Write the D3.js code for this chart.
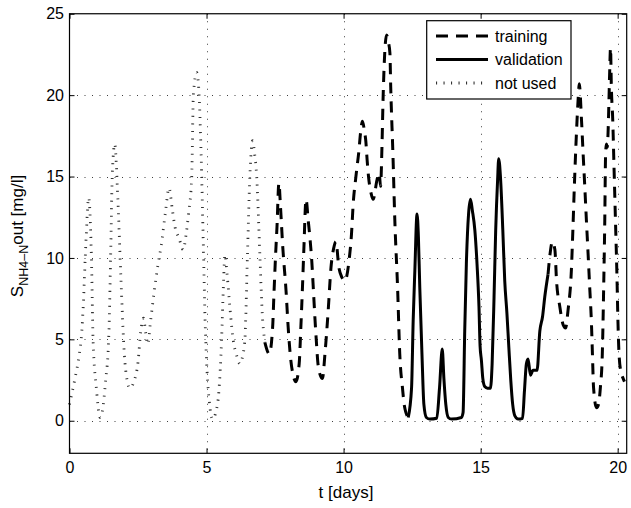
<!DOCTYPE html>
<html>
<head>
<meta charset="utf-8">
<script src="https://cdn.jsdelivr.net/npm/d3@7"></script>
<style>
  html, body { margin: 0; padding: 0; background: #fff; }
  svg { display: block; font-family: 'Liberation Sans', Arial, sans-serif; }
</style>
</head>
<body>
<div id="chart"></div>
<script>
// czas [dni] i S_NH4-N [mg/l] - trzy fragmenty
const notUsedT = [0, 0.2, 0.35, 0.45, 0.5, 0.6, 0.7, 0.8, 0.86, 0.98, 1.12, 1.2, 1.32, 1.43, 1.5, 1.56, 1.65,
  1.75, 1.87, 2.0, 2.1, 2.2, 2.35, 2.5, 2.6, 2.7, 2.78, 2.86, 2.95, 3.08, 3.23, 3.35, 3.5, 3.63, 3.75, 3.85,
  4.0, 4.15, 4.25, 4.35, 4.46, 4.52, 4.64, 4.72, 4.8, 4.88, 4.95, 5.02, 5.1, 5.22, 5.35, 5.45, 5.55, 5.62,
  5.67, 5.75, 5.85, 5.97, 6.1, 6.22, 6.32, 6.4, 6.49, 6.58, 6.68, 6.76, 6.83, 6.95, 7.02, 7.13];
const notUsedV = [1.0, 2.6, 4.0, 5.5, 7.0, 11.0, 13.7, 10.0, 5.0, 2.0, 0.2, 0.6, 2.5, 5.0, 10.0, 15.0, 17.0,
  14.2, 9.0, 4.1, 2.5, 2.0, 2.4, 3.6, 5.5, 6.3, 5.4, 4.7, 6.0, 7.8, 9.6, 10.8, 12.8, 14.3, 13.0, 11.9,
  11.2, 10.5, 11.4, 12.8, 15.0, 20.0, 21.4, 20.3, 16.5, 11.0, 6.0, 3.0, 1.2, 0.1, 0.6, 1.8, 5.0, 8.5,
  10.2, 9.0, 7.0, 5.0, 4.0, 3.5, 4.0, 5.0, 10.0, 15.0, 17.2, 16.3, 15.0, 10.0, 7.0, 4.8];

const trainingT = [7.13, 7.29, 7.41, 7.46, 7.52, 7.57, 7.64, 7.7, 7.78, 7.9, 7.98, 8.07, 8.16, 8.26, 8.38, 8.44,
  8.5, 8.55, 8.63, 8.71, 8.78, 8.84, 8.9, 8.96, 9.01, 9.06, 9.15, 9.23, 9.32, 9.44, 9.54, 9.64, 9.72, 9.83,
  9.94, 10.05, 10.2, 10.29, 10.35, 10.45, 10.56, 10.62, 10.69, 10.76, 10.81, 10.86, 10.91, 11.0, 11.08,
  11.22, 11.3, 11.35, 11.4, 11.44, 11.48, 11.57, 11.63, 11.69, 11.72, 11.8, 11.87, 11.97, 12.05, 12.15,
  12.22, 12.36];
const trainingV = [4.8, 4.1, 5.7, 7.8, 10.2, 11.9, 14.6, 13.1, 10.7, 8.0, 5.7, 3.8, 2.8, 2.4, 3.5, 5.7,
  8.2, 10.5, 13.6, 12.3, 11.1, 9.8, 8.0, 6.15, 4.8, 3.6, 2.8, 2.6, 4.1, 6.8, 9.4, 10.6, 11.0, 9.4,
  8.8, 8.6, 9.85, 11.5, 13.3, 15.0, 16.6, 17.7, 18.4, 17.8, 17.2, 16.0, 15.0, 14.0, 13.6,
  14.8, 15.2, 14.4, 16.8, 19.7, 21.8, 23.7, 23.3, 22.6, 20.5, 16.4, 12.3, 8.2, 4.1, 2.0,
  0.9, 0.2];

const validationT = [12.36, 12.48, 12.54, 12.6, 12.68, 12.73, 12.78, 12.86, 12.93, 13.02, 13.15, 13.4, 13.5,
  13.6, 13.66, 13.73, 13.82, 13.94, 14.3, 14.36, 14.42, 14.48, 14.56, 14.63, 14.7, 14.79, 14.87, 14.94,
  14.98, 15.03, 15.08, 15.15, 15.25, 15.36, 15.42, 15.49, 15.55, 15.62, 15.66, 15.73, 15.81, 15.88, 15.96,
  16.03, 16.1, 16.17, 16.25, 16.37, 16.53, 16.6, 16.67, 16.73, 16.82, 16.91, 17.06, 17.16, 17.26, 17.34,
  17.46];
const validationV = [0.2, 2.0, 6.2, 9.2, 12.7, 11.3, 8.2, 4.1, 1.0, 0.2, 0.1, 0.15, 2.0,
  4.4, 2.6, 1.0, 0.2, 0.1, 0.2, 0.5, 5.5, 9.65, 12.7, 13.6, 12.9, 11.7, 9.6, 7.0,
  4.6, 3.7, 2.6, 2.1, 2.0, 2.0, 3.5, 7.6, 11.7, 14.8, 16.1, 14.8, 11.7, 8.6, 6.6,
  4.5, 2.5, 1.0, 0.3, 0.1, 0.15, 1.85, 3.5, 3.8, 2.8, 3.1, 3.1, 5.5, 6.4, 7.6,
  9.0];

const training2T = [17.46, 17.52, 17.62, 17.71, 17.77, 17.89, 18.01, 18.1, 18.19, 18.31, 18.37, 18.42, 18.5,
  18.56, 18.6, 18.68, 18.74, 18.8, 18.86, 18.92, 18.98, 19.04, 19.08, 19.12, 19.23, 19.3, 19.37, 19.44,
  19.49, 19.53, 19.56, 19.59, 19.62, 19.65, 19.68, 19.71, 19.74, 19.77, 19.82, 19.87, 19.92, 19.97,
  20.01, 20.05, 20.12, 20.2, 20.25];
const training2V = [9.0, 10.05, 11.0, 10.5, 8.6, 7.0, 5.9, 5.7, 6.8, 9.2, 11.9, 14.4, 17.8,
  19.8, 20.7, 18.5, 16.4, 14.4, 12.3, 10.3, 8.2, 6.15, 4.1, 2.05, 0.8, 1.0, 2.05, 4.1,
  8.2, 12.3, 16.4, 17.0, 16.8, 17.7, 19.5, 21.5, 22.9, 20.5, 18.5, 15.4, 12.3, 9.2,
  6.15, 4.1, 3.0, 2.6, 2.4];

const xTicks = [0, 5, 10, 15, 20];
const yTicks = [0, 5, 10, 15, 20, 25];
const legendLabels = ['training', 'validation', 'not used'];

const WIDTH = 631, HEIGHT = 508;
const PLOT = { LEFT: 69.5, TOP: 13.75, RIGHT: 626.7, BOTTOM: 453.3 };

const svg = d3.select('#chart')
  .append('svg')
  .attr('width', WIDTH)
  .attr('height', HEIGHT);

const x = d3.scaleLinear().domain([0, 20.33]).range([PLOT.LEFT, PLOT.RIGHT]);
const y = d3.scaleLinear().domain([-2, 25]).range([PLOT.BOTTOM, PLOT.TOP]);

// siatka kropkowana
const grid = svg.append('g').attr('stroke', '#000').attr('stroke-width', 1)
  .attr('stroke-dasharray', '1,6.5').attr('opacity', 0.75);
grid.selectAll('.gx').data(xTicks.filter(d => d > 0))
  .join('line')
  .attr('x1', d => Math.round(x(d)) + 0.5).attr('x2', d => Math.round(x(d)) + 0.5)
  .attr('y1', PLOT.TOP).attr('y2', PLOT.BOTTOM);
grid.selectAll('.gy').data(yTicks.filter(d => d < 25))
  .join('line')
  .attr('y1', d => Math.round(y(d)) + 0.5).attr('y2', d => Math.round(y(d)) + 0.5)
  .attr('x1', PLOT.LEFT).attr('x2', PLOT.RIGHT);

// linie danych
const line = d3.line()
  .x(d => x(d[0]))
  .y(d => y(d[1]))
  .curve(d3.curveMonotoneX);

const series = [
  { t: notUsedT, v: notUsedV, width: 2.8, dash: '1.1,6.4', color: '#333' },
  { t: trainingT, v: trainingV, width: 3, dash: '11,8', color: '#000' },
  { t: validationT, v: validationV, width: 3, dash: null, color: '#000' },
  { t: training2T, v: training2V, width: 3, dash: '11,8', color: '#000' }
];

series.forEach(s => {
  svg.append('path')
    .datum(s.t.map((t, i) => [t, s.v[i]]))
    .attr('d', line)
    .attr('fill', 'none')
    .attr('stroke', s.color)
    .attr('stroke-width', s.width)
    .attr('stroke-linejoin', 'round')
    .attr('stroke-dasharray', s.dash);
});

// osie - tickami do środka
const FONT = 16;
const LABEL_FONT = 17;
svg.append('g')
  .attr('transform', `translate(0,${PLOT.BOTTOM})`)
  .call(d3.axisBottom(x).tickValues(xTicks).tickSizeInner(-5).tickSizeOuter(0).tickPadding(8.5));
svg.append('g')
  .attr('transform', `translate(${PLOT.LEFT},0)`)
  .call(d3.axisLeft(y).tickValues(yTicks).tickSizeInner(-5).tickSizeOuter(0).tickPadding(5.5));
svg.append('g')
  .attr('transform', `translate(0,${PLOT.TOP})`)
  .call(d3.axisTop(x).tickValues(xTicks).tickSizeInner(-5).tickSizeOuter(0).tickFormat(''));
svg.append('g')
  .attr('transform', `translate(${PLOT.RIGHT},0)`)
  .call(d3.axisRight(y).tickValues(yTicks).tickSizeInner(-5).tickSizeOuter(0).tickFormat(''));

svg.selectAll('.domain').remove();
svg.selectAll('.tick line').attr('stroke', '#000');
svg.selectAll('.tick text')
  .attr('fill', '#000')
  .style('font-size', FONT + 'px')
  .style('font-family', "'Liberation Sans', Arial, sans-serif");

// ramka
svg.append('rect')
  .attr('x', PLOT.LEFT).attr('y', PLOT.TOP)
  .attr('width', PLOT.RIGHT - PLOT.LEFT).attr('height', PLOT.BOTTOM - PLOT.TOP)
  .attr('fill', 'none').attr('stroke', '#000').attr('stroke-width', 1.2);

// podpisy osi
svg.append('text')
  .attr('x', 346).attr('y', 498)
  .attr('text-anchor', 'middle')
  .style('font-size', LABEL_FONT + 'px')
  .text('t [days]');

const yLabel = svg.append('text')
  .attr('transform', 'translate(23,236) rotate(-90)')
  .attr('text-anchor', 'middle')
  .style('font-size', LABEL_FONT + 'px');
yLabel.append('tspan').text('S');
yLabel.append('tspan').attr('dy', 4.5).style('font-size', '12.5px').text('NH4\u2013N');
yLabel.append('tspan').attr('dy', -4.5).text('out [mg/l]');

// legenda
const LEG = { X: 426.7, Y: 20.7, W: 144.3, H: 78.3 };
const legend = svg.append('g');
legend.append('rect')
  .attr('x', LEG.X).attr('y', LEG.Y).attr('width', LEG.W).attr('height', LEG.H)
  .attr('fill', '#fff').attr('stroke', '#000').attr('stroke-width', 1.2);

const legendStyles = [series[1], series[2], series[0]];
const legendY = d3.scalePoint().domain(legendLabels).range([36, 83]);
legendLabels.forEach((lab, i) => {
  const s = legendStyles[i];
  legend.append('line')
    .attr('x1', 436).attr('x2', 488)
    .attr('y1', legendY(lab)).attr('y2', legendY(lab))
    .attr('stroke', s.color).attr('stroke-width', s.width)
    .attr('stroke-dasharray', s.dash === '11,8' ? '12,8' : s.dash);
  legend.append('text')
    .attr('x', 495).attr('y', legendY(lab))
    .attr('dy', '0.35em')
    .style('font-size', FONT + 'px')
    .text(lab);
});
</script>
</body>
</html>
